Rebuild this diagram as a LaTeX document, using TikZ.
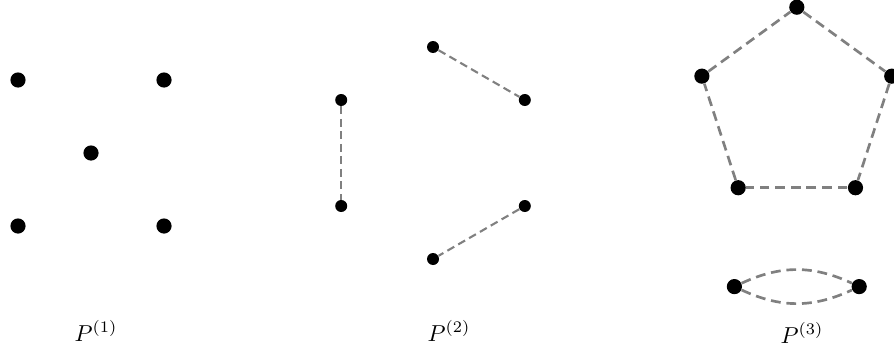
\documentclass[tikz,border=0pt]{standalone}
\usepackage{amssymb}
\usepackage{tikz}
\usetikzlibrary{arrows,shapes}
\newcommand{\etiq}[1]{\scalebox{1.64}{$P^{(#1)}$}}

\begin{document}
\begin{tikzpicture}[auto,semithick]
  \tikzstyle{bigdot}=[circle,fill=black,
                                    inner sep=0pt,
                                    minimum size=0.38cm]
  \tikzstyle{smalldot}=[circle,fill=black,
                                    inner sep=0pt,
                                    minimum size=0.3cm]
  \tikzstyle{link}=[draw=gray,
                                    line width=1.9pt,
                                    dash pattern=on 7pt off 4.1pt]
  \tikzstyle{smalllink}=[draw=gray,
                                    line width=1.5pt,
                                    dash pattern=on 5.6pt off 3.3pt]
  \useasboundingbox (0,0) rectangle (22.35,8.825);
  %Nodos P1
  \node[bigdot] (a1) [shift={(0.45,6.825)}] {};
  \node[bigdot] (a2) [shift={(4.1,6.825)}] {};
  \node[bigdot] (a3) [shift={(2.275,5.0)}] {};
  \node[bigdot] (a4) [shift={(0.45,3.175)}] {};
  \node[bigdot] (a5) [shift={(4.1,3.175)}] {};
  %Nodos P2
  \node[smalldot] (b1) [shift={(10.825,7.65)}] {};
  \node[smalldot] (b2) [shift={(13.12,6.325)}] {};
  \node[smalldot] (b3) [shift={(13.12,3.675)}] {};
  \node[smalldot] (b4) [shift={(10.825,2.35)}] {};
  \node[smalldot] (b5) [shift={(8.53,3.675)}] {};
  \node[smalldot] (b6) [shift={(8.53,6.325)}] {};
  %Nodos P3
  \node[bigdot] (c1) [shift={(19.92,8.645)}] {};
  \node[bigdot] (c2) [shift={(22.293,6.921)}] {};
  \node[bigdot] (c3) [shift={(21.387,4.132)}] {};
  \node[bigdot] (c4) [shift={(18.454,4.132)}] {};
  \node[bigdot] (c5) [shift={(17.547,6.921)}] {};
  \node[bigdot] (d1) [shift={(18.36,1.66)}] {};
  \node[bigdot] (d2) [shift={(21.48,1.66)}] {};
  %Etiquetas
  \node (lab1) [shift={(2.4,0.55)}] {\etiq{1}};
  \node (lab2) [shift={(11.225,0.55)}] {\etiq{2}};
  \node (lab3) [shift={(20.05,0.5)}] {\etiq{3}};
    \path[smalllink] (b6) edge node{} (b5)
          (b1) edge node{} (b2)
          (b3) edge node{} (b4);
    \path[link] (c1) edge node{} (c2)
          (c2) edge node{} (c3)
          (c3) edge node{} (c4)
          (c4) edge node{} (c5)
          (c5) edge node{} (c1)
          (d1) edge[bend left=25] node{} (d2)
          (d1) edge[bend right=25] node{} (d2);
\end{tikzpicture}
\end{document}
